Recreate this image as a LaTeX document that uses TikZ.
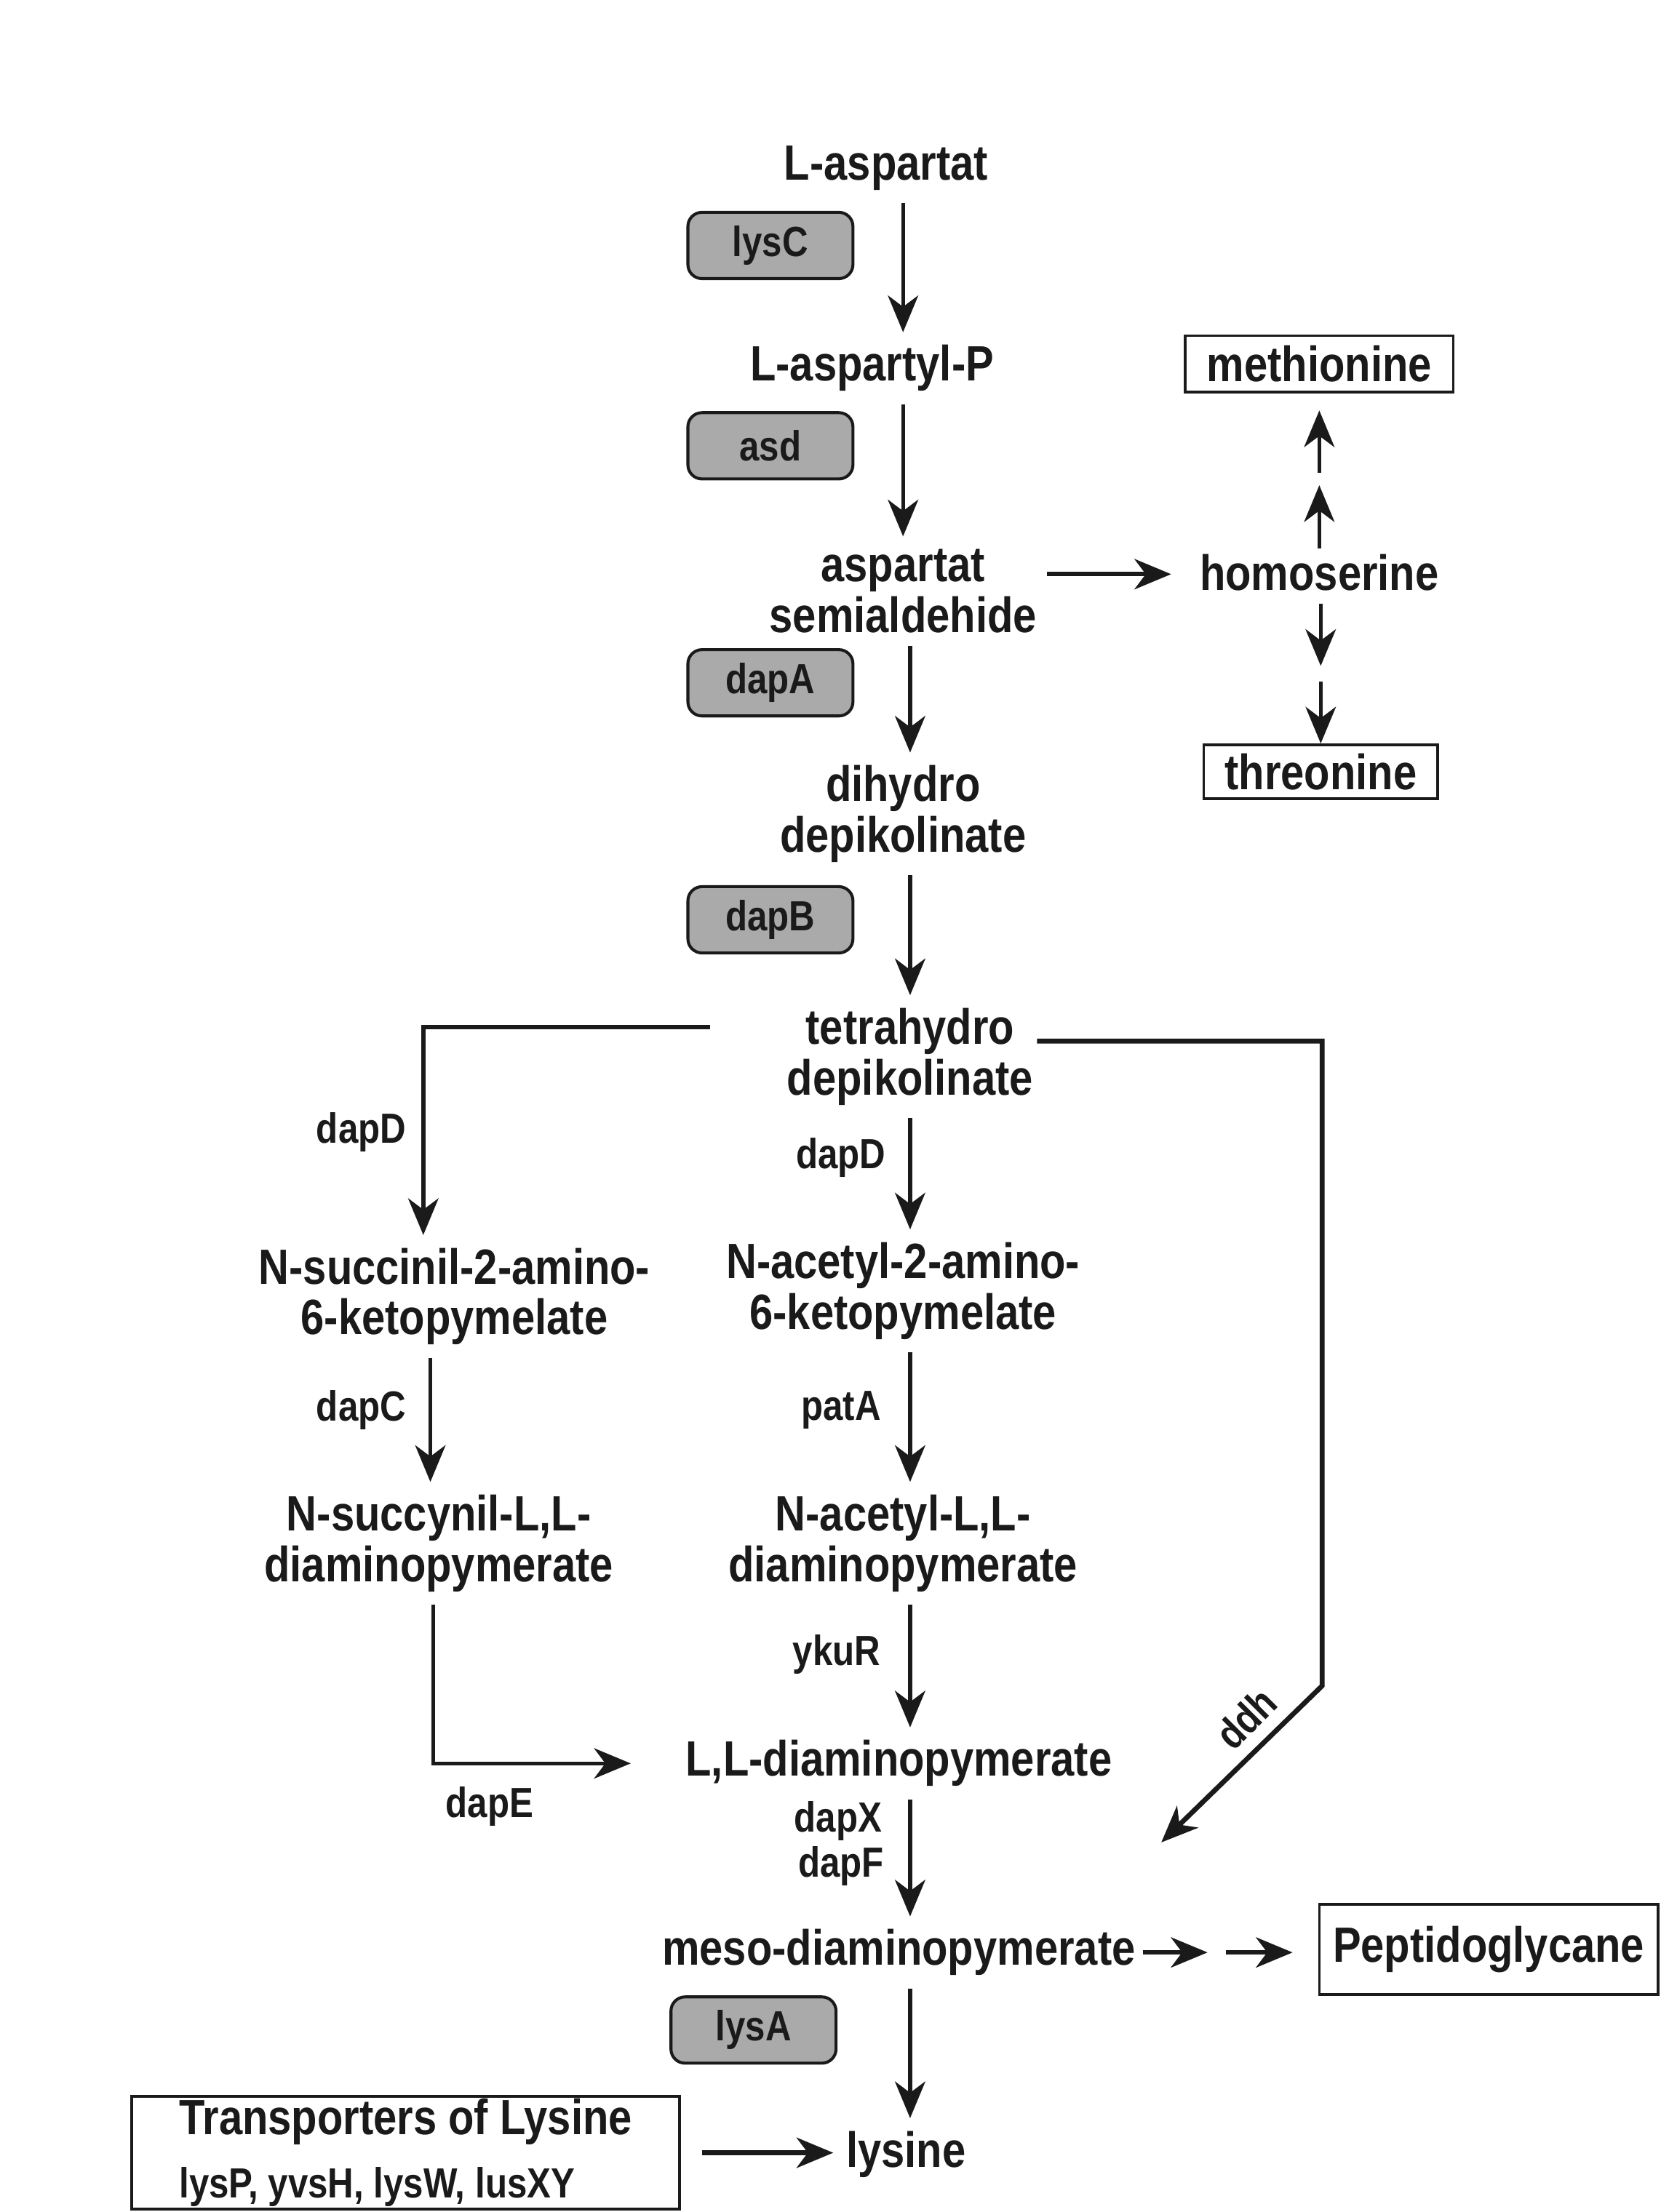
\documentclass[tikz,border=0pt]{standalone}
\usepackage{fontspec}
\setmainfont{Liberation Sans}[FakeStretch=0.85]
\usepackage{tikz}
\usetikzlibrary{arrows.meta, calc}
\definecolor{ink}{RGB}{26,26,26}
\definecolor{genefill}{RGB}{170,170,170}
\tikzset{
  met/.style={font=\fontsize{20}{20.5}\selectfont\bfseries, align=center, inner sep=5pt,
    text=ink, yshift=-1.7pt},
  enz/.style={font=\fontsize{17}{20}\selectfont\bfseries, inner sep=0pt, text=ink},
  lab/.style={enz, yshift=-1.5pt},
  gene/.style={enz, draw=ink, line width=1.2pt, fill=genefill, rounded corners=0.2cm,
    minimum width=2.34cm, minimum height=0.94cm},
  prod/.style={font=\fontsize{20}{20.5}\selectfont\bfseries, text=ink, draw=ink,
    line width=1.1pt, inner sep=0pt},
  arr/.style={-{Stealth[length=5.2mm, width=4.3mm, inset=1.6mm]}, line width=1.6pt, draw=ink},
}
\begin{document}
\begin{tikzpicture}[x=0.02cm, y=-0.02cm]
\useasboundingbox (0,0) rectangle (1177,1568);
% arrow columns
\coordinate (c1) at (640,0);
\coordinate (c2) at (645,0);

% main pathway
\node[met] (asp) at (628,116) {L-aspartat};
\node[gene] (lysC) at (546,174) {lysC};
\node[met] (aspP) at (618,258) {L-aspartyl-P};
\node[gene] (asd) at (546,316) {asd};
\node[met] (asa) at (640,416) {aspartat\\semialdehide};
\node[gene] (dapA) at (546,484) {dapA};
\node[met] (dhdp) at (640,574) {dihydro\\depikolinate};
\node[gene] (dapB) at (546,652) {dapB};
\node[met] (thdp) at (645,746) {tetrahydro\\depikolinate};
\node[met] (nsuc) at (322,916) {N-succinil-2-amino-\\6-ketopymelate};
\node[met] (nace) at (640,912) {N-acetyl-2-amino-\\6-ketopymelate};
\node[met] (nsucdap) at (311,1091) {N-succynil-L,L-\\diaminopymerate};
\node[met] (nacedap) at (640,1091) {N-acetyl-L,L-\\diaminopymerate};
\node[met] (lldap) at (637,1247) {L,L-diaminopymerate};
\node[met] (meso) at (637,1381) {meso-diaminopymerate};
\node[gene] (lysA) at (534,1439) {lysA};
\node[met] (lys) at (642,1524) {lysine};

% side products
\node[met] (hom) at (935,403) {homoserine};
\node[prod, minimum width=3.8cm, minimum height=0.8cm] (meth) at (935,258) {methionine};
\node[prod, minimum width=3.32cm, minimum height=0.76cm] (thr) at (936,547) {threonine};
\node[prod, minimum width=4.8cm, minimum height=1.28cm] (pg) at (1055,1382) {Peptidoglycane};
\node[draw=ink, line width=1.2pt, align=left, inner xsep=0.67cm, inner ysep=0pt,
  minimum height=1.6cm, text=ink, font=\bfseries] (trans) at (287.5,1526)
  {\fontsize{20}{24}\selectfont Transporters of Lysine\\[8pt]
   \fontsize{17}{24}\selectfont lysP, yvsH, lysW, lusXY};

% enzymes
\node[lab] (dapDl) at (256,800) {dapD};
\node[lab] (dapDc) at (596,818) {dapD};
\node[lab] (dapC) at (256,997) {dapC};
\node[lab] (patA) at (596,997) {patA};
\node[lab] (ykuR) at (593,1170) {ykuR};
\node[lab] (dapE) at (347,1278) {dapE};
\node[lab] (dapX) at (594,1288) {dapX};
\node[lab] (dapF) at (596,1320) {dapF};
\node[enz, rotate=45] (ddh) at (883,1218) {ddh};

% branch corners
\coordinate (ls) at (503,728);
\coordinate (lk) at (300,728);
\coordinate (rs) at (735,738);
\coordinate (rk) at (937,738);
\coordinate (rd) at (937,1195);
\coordinate (rt) at (823,1306);
\coordinate (bk) at (307,1250);
\coordinate (bt) at (447,1250);
\coordinate (hs) at (742,407);
\coordinate (ht) at (830,407);

% arrows
\draw[arr] (asp.south -| c1) -- (aspP.north -| c1);
\draw[arr] (aspP.south -| c1) -- (asa.north -| c1);
\draw[arr] (asa.south -| c2) -- (dhdp.north -| c2);
\draw[arr] (dhdp.south -| c2) -- (thdp.north -| c2);
\draw[arr] (thdp.south -| c2) -- (nace.north -| c2);
\draw[arr] (nace.south -| c2) -- (nacedap.north -| c2);
\draw[arr] (nacedap.south -| c2) -- (lldap.north -| c2);
\draw[arr] (lldap.south -| c2) -- (meso.north -| c2);
\draw[arr] (meso.south -| c2) -- (lys.north -| c2);
\draw[arr] (ls) -- (lk) -- (nsuc.north -| lk);
\draw[arr] (nsuc.south -| 305,0) -- (nsucdap.north -| 305,0);
\draw[arr] (nsucdap.south -| bk) -- (bk) -- (bt);
\draw[arr, line width=2pt] (rs) -- (rk) -- (rd) -- (rt);
\draw[arr, line width=1.8pt] (hs) -- (ht);
\draw[arr] (meth.south) ++(0,110) -- ++(0,-45);
\draw[arr] (meth.south) ++(0,56) -- ++(0,-44);
\draw[arr] (thr.north) ++(0,-99) -- ++(0,44);
\draw[arr] (thr.north) ++(0,-44) -- (thr.north);
\draw[arr] (meso.east) ++(-4,0) -- ++(46,0);
\draw[arr] (pg.west) ++(-65,2) -- ++(47,0);
\draw[arr, line width=2pt] (trans.east) ++(15,0) -- (trans.east -| lys.west);
\end{tikzpicture}
\end{document}
